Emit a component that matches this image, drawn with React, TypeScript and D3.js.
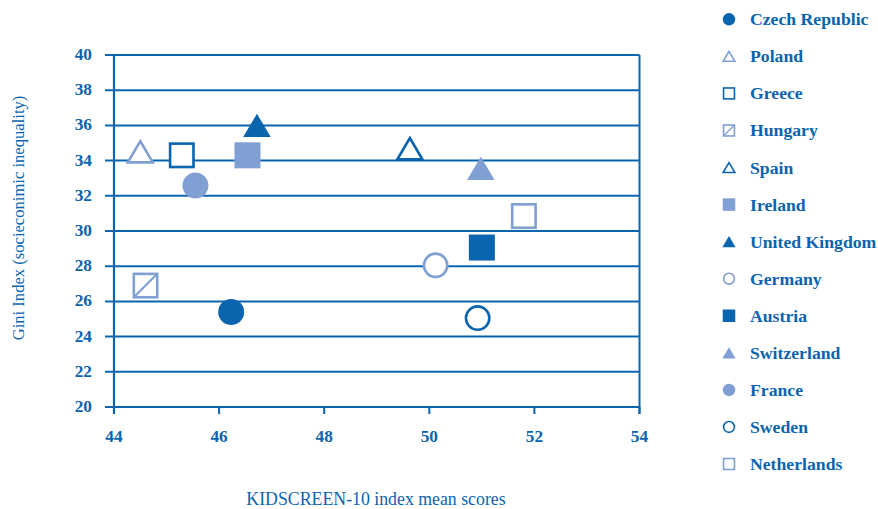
import React from "react";
import * as d3 from "d3";

const countries = ["Czech Republic","Poland","Greece","Hungary","Spain","Ireland","United Kingdom","Germany","Austria","Switzerland","France","Sweden","Netherlands"];
const kidscreen = [46.23, 44.5, 45.29, 44.6, 49.63, 46.54, 46.72, 50.12, 51.0, 50.98, 45.55, 50.92, 51.8];
const gini = [25.4, 34.5, 34.3, 26.9, 34.68, 34.3, 36.0, 28.05, 29.06, 33.56, 32.58, 25.05, 30.85];
const shapes = ["circle","triangle","square","hatch","triangle","square","triangle","circle","square","triangle","circle","circle","square"];
const tones = ["dark","light","dark","light","dark","light","dark","light","dark","light","light","dark","light"];
const filled = [true,false,false,false,false,true,true,false,true,true,true,false,false];
const xTicks = [44,46,48,50,52,54];
const yTicks = [20,22,24,26,28,30,32,34,36,38,40];

const DARK = "#0b64ae";
const LIGHT = "#809fd3";
const FONT = "'Liberation Serif','Times New Roman',serif";

function Marker({ shape, color, fill, size }: { shape: string; color: string; fill: boolean; size: number }) {
  const sw = size > 20 ? 2.6 : 1.6;
  if (shape === "circle") {
    const r = fill ? size / 2 : size / 2 - sw / 2;
    return <circle r={r} fill={fill ? color : "#fff"} stroke={fill ? "none" : color} strokeWidth={sw} />;
  }
  if (shape === "square" || shape === "hatch") {
    const s = fill ? size : size - sw;
    return (
      <g>
        <rect x={-s / 2} y={-s / 2} width={s} height={s} fill={fill ? color : "#fff"} stroke={fill ? "none" : color} strokeWidth={sw} />
        {shape === "hatch" && <line x1={-s / 2} y1={s / 2} x2={s / 2} y2={-s / 2} stroke={color} strokeWidth={sw * 0.8} />}
      </g>
    );
  }
  const w = fill ? size * 1.06 : size * 1.06 - sw;
  const h = w * 0.85;
  const p = `M0,${-h / 2}L${w / 2},${h / 2}L${-w / 2},${h / 2}Z`;
  return <path d={p} fill={fill ? color : "#fff"} stroke={fill ? "none" : color} strokeWidth={sw} strokeLinejoin="miter" />;
}

export default function App() {
  const x = d3.scaleLinear().domain([44, 54]).range([114, 639.5]);
  const y = d3.scaleLinear().domain([20, 40]).range([407, 55]);
  const legendY = d3.scaleLinear().domain([0, 12]).range([19.3, 464]);

  return (
    <svg width={878} height={509} style={{ position: "absolute", left: 0, top: 0, background: "#fff" }} fontFamily={FONT}>
      {yTicks.map((t) => (
        <g key={"y" + t}>
          <line x1={105} x2={x(54)} y1={y(t)} y2={y(t)} stroke={DARK} strokeWidth={2} />
          <text x={92} y={y(t) + 5} textAnchor="end" fontSize={17.3} fontWeight="bold" fill={DARK}>{t}</text>
        </g>
      ))}
      <line x1={x(44)} x2={x(44)} y1={y(40)} y2={414} stroke={DARK} strokeWidth={2.2} />
      <line x1={x(54)} x2={x(54)} y1={y(40)} y2={414} stroke={DARK} strokeWidth={2} />
      {xTicks.map((t) => (
        <g key={"x" + t}>
          <line x1={x(t)} x2={x(t)} y1={y(20)} y2={414} stroke={DARK} strokeWidth={2} />
          <text x={x(t)} y={442} textAnchor="middle" fontSize={17.3} fontWeight="bold" fill={DARK}>{t}</text>
        </g>
      ))}
      <text x={376} y={505} textAnchor="middle" fontSize={17.8} fill={DARK}>KIDSCREEN-10 index mean scores</text>
      <text transform="translate(24,218) rotate(-90)" textAnchor="middle" fontSize={16.6} fill={DARK}>Gini Index (socieconimic inequality)</text>

      {countries.map((c, i) => (
        <g key={c} transform={`translate(${x(kidscreen[i])},${y(gini[i])})`}>
          <Marker shape={shapes[i]} color={tones[i] === "dark" ? DARK : LIGHT} fill={filled[i]} size={26} />
        </g>
      ))}

      {countries.map((c, i) => (
        <g key={"l" + c} transform={`translate(0,${legendY(i)})`}>
          <g transform="translate(729,0)">
            <Marker shape={shapes[i]} color={tones[i] === "dark" ? DARK : LIGHT} fill={filled[i]} size={12.5} />
          </g>
          <text x={750} y={6} fontSize={17.7} fontWeight="bold" fill={DARK}>{c}</text>
        </g>
      ))}
    </svg>
  );
}
